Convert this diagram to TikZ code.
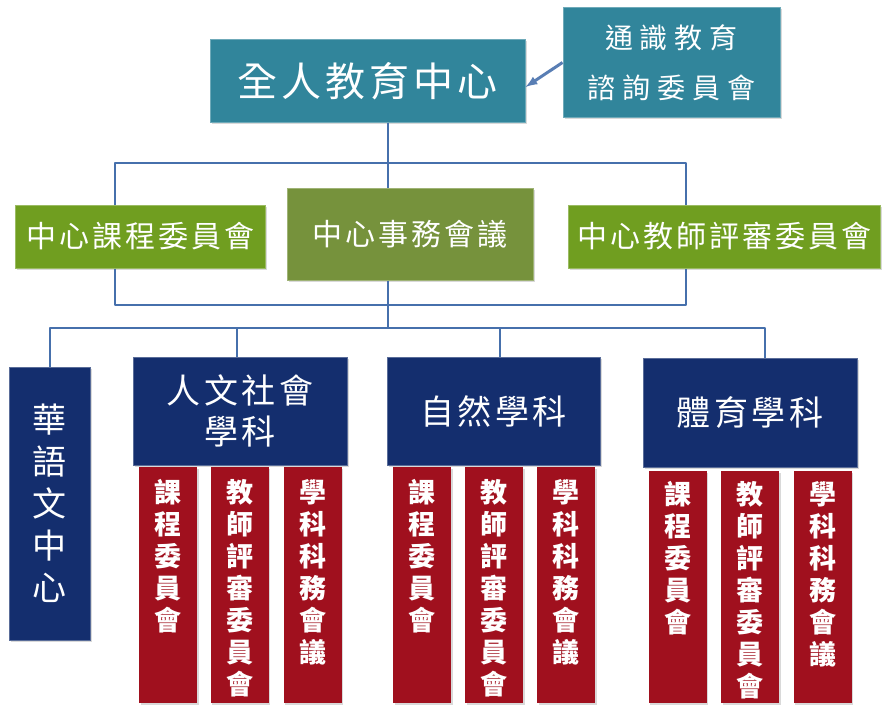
\documentclass[tikz,border=0pt]{standalone}
\usepackage{fontspec}
\newfontfamily\cjk[LetterSpace=10]{Noto Sans CJK TC}
\newfontfamily\cjkw[LetterSpace=25]{Noto Sans CJK TC}
\newfontfamily\cjkv{Noto Sans CJK TC}
\usepackage{tikz}
\usetikzlibrary{arrows,shapes,shadows}
\definecolor{teal1}{RGB}{49,133,155}
\definecolor{green1}{RGB}{112,158,32}
\definecolor{olive1}{RGB}{118,146,60}
\definecolor{navy1}{RGB}{20,46,110}
\definecolor{red1}{RGB}{160,16,30}
\definecolor{line1}{RGB}{70,112,172}
\newcommand{\coltext}[1]{\parbox[c][212pt][t]{50pt}{\centering #1}}

\begin{document}
\begin{tikzpicture}[x=1pt,y=-1pt]
\tikzstyle{box}=[shape=rectangle,inner sep=0pt,text=white,align=center,
  drop shadow={opacity=0.3,shadow xshift=1.5pt,shadow yshift=-1.5pt}];
\tikzstyle{tealbox}=[box,fill=teal1,draw=teal1!70!white,line width=1pt];
\tikzstyle{greenbox}=[box,fill=green1,draw=green1!70!white,line width=1pt,
  minimum height=63pt,font=\fontsize{30}{36}\cjk];
\tikzstyle{navybox}=[box,fill=navy1,draw=navy1!70!white,line width=1pt];
\tikzstyle{redbox}=[box,fill=red1,anchor=north,minimum width=58pt,
  minimum height=236pt,font=\fontsize{27}{32}\cjkv\bfseries];
\tikzstyle{link}=[draw=line1,line width=2.5pt,line join=round];
\useasboundingbox (0,0) rectangle (882,706);
% top
\node[tealbox,minimum width=315pt,minimum height=82pt,font=\fontsize{40}{48}\cjk]
  (t1) at (367.5,81) {全人教育中心};
\node[tealbox,minimum width=217pt,minimum height=109pt,font=\fontsize{28}{50}\cjkw]
  (t2) at (671.5,62.5) {通識教育\\諮詢委員會};
% centre
\node[greenbox,minimum width=250pt] (g1) at (140,236.5) {中心課程委員會};
\node[greenbox,fill=olive1,draw=olive1!70!white,minimum width=246pt,minimum height=92pt]
  (g2) at (410,234) {中心事務會議};
\node[greenbox,minimum width=312pt] (g3) at (724,236.5) {中心教師評審委員會};
% subjects
\node[navybox,minimum width=81pt,minimum height=273pt,font=\fontsize{34}{42}\cjkv]
  (b1) at (49.5,503.5) {華\\語\\文\\中\\心};
\node[navybox,minimum width=214pt,minimum height=108pt,font=\fontsize{34}{41}\cjk]
  (b2) at (240,411) {人文社會\\學科};
\node[navybox,minimum width=213pt,minimum height=108pt,font=\fontsize{34}{41}\cjk]
  (b3) at (493.5,411) {自然學科};
\node[navybox,minimum width=214pt,minimum height=109pt,font=\fontsize{34}{41}\cjk]
  (b4) at (750,412.5) {體育學科};
% committees
\node[redbox] (r1) at (168,467) {\coltext{課\\程\\委\\員\\會}};
\node[redbox] (r2) at (239.5,467) {\coltext{教\\師\\評\\審\\委\\員\\會}};
\node[redbox] (r3) at (312.5,467) {\coltext{學\\科\\科\\務\\會\\議}};
\node[redbox] (r4) at (422,467) {\coltext{課\\程\\委\\員\\會}};
\node[redbox] (r5) at (494,467) {\coltext{教\\師\\評\\審\\委\\員\\會}};
\node[redbox] (r6) at (566,467) {\coltext{學\\科\\科\\務\\會\\議}};
\node[redbox,minimum height=232pt] (r7) at (677.5,471) {\coltext{課\\程\\委\\員\\會}};
\node[redbox,minimum height=232pt] (r8) at (750,471) {\coltext{教\\師\\評\\審\\委\\員\\會}};
\node[redbox,minimum height=232pt] (r9) at (822.5,471) {\coltext{學\\科\\科\\務\\會\\議}};
% joints
\coordinate (j1) at (388,163);
\coordinate (j2) at (388,328);
\coordinate (h1) at (115,163);
\coordinate (h2) at (686,163);
\coordinate (h3) at (115,305);
\coordinate (h4) at (686,305);
\coordinate (h5) at (50,328);
\coordinate (h6) at (765,328);
\coordinate (h7) at (237,328);
\coordinate (h8) at (500,328);
\draw [link] (t1.south -| j1) -- (g2.north -| j1);
\draw [link] (g1.north -| h1) -- (h1) -- (h2) -- (g3.north -| h2);
\draw [link] (g1.south -| h3) -- (h3) -- (h4) -- (g3.south -| h4);
\draw [link] (g2.south -| j2) -- (j2);
\draw [link] (b1.north -| h5) -- (h5) -- (h6) -- (b4.north -| h6);
\draw [link] (h7) -- (b2.north -| h7);
\draw [link] (h8) -- (b3.north -| h8);
\draw [-latex,draw=line1!90!white,line width=3pt] (t2.west) -- ([yshift=-6pt]t1.east);
\end{tikzpicture}
\end{document}
